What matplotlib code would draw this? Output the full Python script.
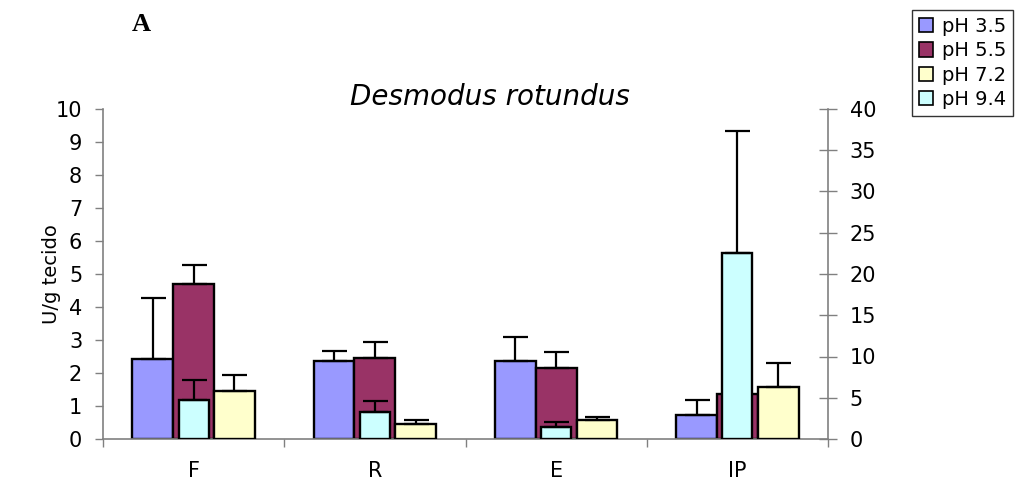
import matplotlib
matplotlib.use("Agg")
import matplotlib.pyplot as plt
from matplotlib.patches import Patch
import numpy as np

# ---- data ----
categories = ["F", "R", "E", "IP"]
# primary axis (U/g tecido, 0-10)
ph35 = [2.42, 2.36, 2.36, 0.73]
ph35_err = [1.85, 0.31, 0.73, 0.45]
ph55 = [4.70, 2.45, 2.15, 1.36]
ph55_err = [0.57, 0.49, 0.49, 0.35]
# secondary axis (0-40)
ph72 = [5.8, 1.8, 2.3, 6.3]
ph72_err = [1.96, 0.52, 0.36, 2.88]
ph94 = [4.7, 3.3, 1.45, 22.6]
ph94_err = [2.44, 1.32, 0.64, 14.7]
left_ticks = list(range(0, 11))
right_ticks = list(range(0, 45, 5))
legend_labels = ["pH 3.5", "pH 5.5", "pH 7.2", "pH 9.4"]

colors = {"pH 3.5": "#9999FF", "pH 5.5": "#993366", "pH 7.2": "#FFFFCC", "pH 9.4": "#CCFFFF"}
axis_gray = "#808080"
FONT = "DejaVu Sans"
plt.rcParams["font.family"] = [FONT]

W, H = 1023, 487
fig = plt.figure(figsize=(W / 100, H / 100), dpi=100)
ax = fig.add_axes([103 / W, 1 - 439 / H, (828 - 103) / W, (439 - 109) / H])
ax2 = ax.twinx()

centers = np.arange(len(categories)) + 0.5
w = 0.225
ekw = dict(fmt="none", ecolor="black", elinewidth=1.6, capsize=9, capthick=1.6)
bkw = dict(edgecolor="black", linewidth=1.7)

ax.bar(centers - w, ph35, w, color=colors["pH 3.5"], zorder=2, **bkw)
ax.bar(centers, ph55, w, color=colors["pH 5.5"], zorder=2, **bkw)
ax.errorbar(centers - w, ph35, yerr=[np.zeros(4), ph35_err], zorder=3, **ekw)
ax.errorbar(centers, ph55, yerr=[np.zeros(4), ph55_err], zorder=3, **ekw)

ax2.bar(centers, ph94, 0.165, color=colors["pH 9.4"], zorder=2, **bkw)
ax2.bar(centers + w, ph72, w, color=colors["pH 7.2"], zorder=2, **bkw)
ax2.errorbar(centers, ph94, yerr=[np.zeros(4), ph94_err], zorder=3, **ekw)
ax2.errorbar(centers + w, ph72, yerr=[np.zeros(4), ph72_err], zorder=3, **ekw)

ax.set_xlim(0, 4)
ax.set_ylim(0, 10)
ax2.set_ylim(0, 40)

ax.set_yticks(left_ticks)
ax.set_yticklabels([str(t) for t in left_ticks], fontsize=15)
ax.tick_params(axis="y", direction="out", length=6, width=1, color=axis_gray, pad=9)
ax2.set_yticks(right_ticks)
ax2.set_yticklabels([str(t) for t in right_ticks], fontsize=15)
ax2.tick_params(axis="y", direction="inout", length=13, width=1, color=axis_gray, pad=9)

ax.set_xticks([0, 1, 2, 3, 4])
ax.set_xticklabels([])
ax.tick_params(axis="x", which="major", direction="out", length=6, width=1, color=axis_gray)
ax.set_xticks(centers, minor=True)
ax.set_xticklabels(categories, minor=True, fontsize=15)
ax.tick_params(axis="x", which="minor", length=0, pad=16)

for a in (ax, ax2):
    a.spines["top"].set_visible(False)
    for s in a.spines.values():
        s.set_color(axis_gray)
        s.set_linewidth(1.2)
ax.spines["right"].set_visible(False)
ax2.spines["left"].set_visible(False)
ax2.spines["bottom"].set_visible(False)

ax.set_ylabel("U/g tecido", fontsize=14, labelpad=0)
ax.yaxis.set_label_coords(-42 / (828 - 103), 0.5)

fig.text(490 / W, 1 - 105 / H, "Desmodus rotundus", fontsize=20, style="italic",
         ha="center", va="baseline")
fig.text(132 / W, 1 - 31 / H, "A", fontsize=19, fontweight="bold",
         family="Liberation Serif", ha="left", va="baseline")

handles = [Patch(facecolor=colors[l], edgecolor="black", linewidth=1.2) for l in legend_labels]
leg = fig.legend(handles, legend_labels, loc="upper left",
                 bbox_to_anchor=(912 / W, 1 - 10 / H), fontsize=14,
                 frameon=True, fancybox=False, edgecolor="black",
                 handlelength=0.75, handleheight=0.75, handletextpad=0.45,
                 labelspacing=0.28, borderpad=0.35, borderaxespad=0)
leg.get_frame().set_linewidth(1.0)

fig.savefig("out.png", dpi=100)
